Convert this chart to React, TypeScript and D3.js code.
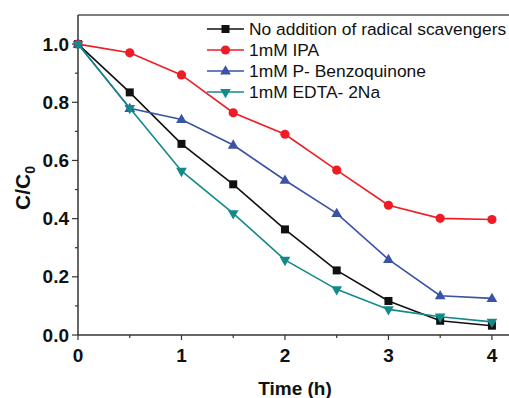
import React from "react";
import * as d3 from "d3";

const times = [0, 0.5, 1, 1.5, 2, 2.5, 3, 3.5, 4];
const noScavenger = [1.0, 0.834, 0.657, 0.518, 0.363, 0.222, 0.117, 0.049, 0.032];
const ipa = [1.0, 0.97, 0.894, 0.764, 0.69, 0.567, 0.446, 0.401, 0.397];
const benzoquinone = [1.0, 0.779, 0.741, 0.653, 0.532, 0.418, 0.26, 0.135, 0.126];
const edta = [1.0, 0.78, 0.564, 0.418, 0.258, 0.157, 0.088, 0.063, 0.045];
const seriesNames = [
  "No addition of radical scavengers",
  "1mM IPA",
  "1mM P- Benzoquinone",
  "1mM EDTA- 2Na",
];
const xTicks = [0, 1, 2, 3, 4];
const xMinor = [0.5, 1.5, 2.5, 3.5];
const yTicks = [0, 0.2, 0.4, 0.6, 0.8, 1.0];
const yMinor = [0.1, 0.3, 0.5, 0.7, 0.9];

const W = 509;
const H = 398;
const left = 78, top = 15, right = 509, bottom = 335;

export default function App() {
  const x = d3.scaleLinear().domain([0, 4.165]).range([left, right]);
  const y = d3.scaleLinear().domain([0, 1.1]).range([bottom, top]);
  const series = [
    { vals: noScavenger, color: "#111111", marker: "square" },
    { vals: ipa, color: "#ee1c24", marker: "circle" },
    { vals: benzoquinone, color: "#3a53a4", marker: "up" },
    { vals: edta, color: "#14898a", marker: "down" },
  ];
  const line = d3.line<number>().x((_, i) => x(times[i])).y((d) => y(d));
  const marker = (kind: string, cx: number, cy: number, color: string, key: string) => {
    if (kind === "square") return <rect key={key} x={cx - 4} y={cy - 4} width={8} height={8} fill={color} />;
    if (kind === "circle") return <circle key={key} cx={cx} cy={cy} r={4.6} fill={color} />;
    const s = d3.symbol().type(d3.symbolTriangle).size(50)()!;
    return <path key={key} d={s} transform={`translate(${cx},${cy + (kind === "down" ? 0 : 0.5)}) rotate(${kind === "down" ? 180 : 0})`} fill={color} />;
  };
  const axisColor = "#333";
  return (
    <svg width={W} height={H} style={{ position: "absolute", left: 0, top: 0, background: "#fff" }} fontFamily="Liberation Sans, Arial, sans-serif">
      {/* frame */}
      <line x1={left} x2={right} y1={top} y2={top} stroke="#555" strokeWidth={1.5} />
      <line x1={left} x2={left} y1={top} y2={bottom} stroke={axisColor} strokeWidth={1.5} />
      <line x1={left} x2={right} y1={bottom} y2={bottom} stroke={axisColor} strokeWidth={1.5} />
      {xTicks.map((t) => (
        <g key={"xt" + t}>
          <line x1={x(t)} x2={x(t)} y1={bottom} y2={bottom + 5} stroke={axisColor} strokeWidth={1.2} />
          <text x={x(t)} y={362} textAnchor="middle" fontSize={19} fontWeight="bold" fill="#111">{t}</text>
        </g>
      ))}
      {xMinor.map((t) => (
        <line key={"xm" + t} x1={x(t)} x2={x(t)} y1={bottom} y2={bottom + 3} stroke={axisColor} strokeWidth={1.2} />
      ))}
      {yTicks.map((t) => (
        <g key={"yt" + t}>
          <line x1={left - 6} x2={left} y1={y(t)} y2={y(t)} stroke={axisColor} strokeWidth={1.2} />
          <text x={69} y={y(t) + 6.5} textAnchor="end" fontSize={19} fontWeight="bold" fill="#111">{t.toFixed(1)}</text>
        </g>
      ))}
      {yMinor.map((t) => (
        <line key={"ym" + t} x1={left - 3} x2={left} y1={y(t)} y2={y(t)} stroke={axisColor} strokeWidth={1.2} />
      ))}
      {/* axis titles */}
      <text x={295} y={395} textAnchor="middle" fontSize={19} fontWeight="bold" fill="#111">Time (h)</text>
      <text transform="translate(30,188) rotate(-90)" textAnchor="middle" fontSize={21} fontWeight="bold" fill="#111">
        C/C<tspan fontSize={14} dy={5}>0</tspan>
      </text>
      {/* series */}
      {series.map((s, si) => (
        <g key={"s" + si}>
          <path d={line(s.vals)!} fill="none" stroke={s.color} strokeWidth={1.6} />
          {s.vals.map((v, i) => marker(s.marker, x(times[i]), y(v), s.color, `m${si}-${i}`))}
        </g>
      ))}
      {/* legend */}
      {series.map((s, i) => {
        const ly = 29 + i * 21;
        return (
          <g key={"lg" + i}>
            <line x1={207} x2={244} y1={ly} y2={ly} stroke={s.color} strokeWidth={1.6} />
            {marker(s.marker, 225.5, ly, s.color, "lm" + i)}
            <text x={249} y={ly + 6} fontSize={17.4} fill="#111">{seriesNames[i]}</text>
          </g>
        );
      })}
    </svg>
  );
}
